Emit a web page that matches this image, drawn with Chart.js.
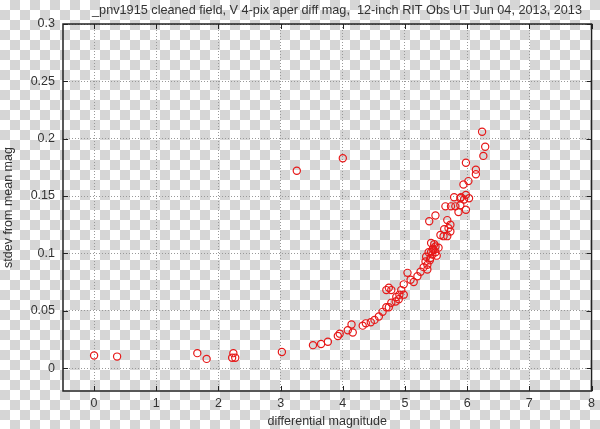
<!DOCTYPE html>
<html>
<head>
<meta charset="utf-8">
<script src="https://cdn.jsdelivr.net/npm/chart.js@4"></script>
<style>
  html, body { margin: 0; padding: 0; }
  body {
    width: 600px; height: 429px; overflow: hidden;
    background-color: #fff;
    background-image:
      linear-gradient(45deg, #d6d6d6 25%, transparent 25%, transparent 75%, #d6d6d6 75%),
      linear-gradient(45deg, #d6d6d6 25%, transparent 25%, transparent 75%, #d6d6d6 75%);
    background-size: 20px 20px;
    background-position: 0 0, 10px 10px;
  }
  #wrap { position: relative; width: 600px; height: 429px; }
</style>
</head>
<body>
<div id="wrap"><canvas id="magChart" width="600" height="429"></canvas></div>
<script>
const chartTitle = "_pnv1915 cleaned field, V 4-pix aper diff mag,  12-inch RIT Obs UT Jun 04, 2013, 2013";
const xAxisTitle = "differential magnitude";
const yAxisTitle = "stdev from mean mag";

const xTickVals = [0, 1, 2, 3, 4, 5, 6, 7, 8];
const yTickVals = [0, 0.05, 0.1, 0.15, 0.2, 0.25, 0.3];
const yTickLabels = ["0", "0.05", "0.1", "0.15", "0.2", "0.25", "0.3"];

// differential magnitude of each star
const diffMag = [
  0.00, 0.37, 1.66, 1.81, 2.24, 2.22, 2.27, 3.02, 3.26, 4.00,
  3.52, 3.65, 3.76, 3.92, 3.95, 4.08, 4.14, 4.16, 4.32, 4.37, 4.45,
  4.51, 4.58, 4.64, 4.70, 4.74, 4.78, 4.85, 4.86, 4.90, 4.98, 4.91,
  4.70, 4.74, 4.78, 4.94, 4.98, 5.04, 5.09, 5.14, 5.20, 5.25, 5.30,
  5.33, 5.36, 5.34, 5.41, 5.38, 5.42, 5.49, 5.46, 5.54, 5.42, 5.49, 5.47,
  5.57, 5.62, 5.68, 5.63, 5.70, 5.73, 5.73, 5.68, 5.39, 5.49,
  5.86, 5.98, 5.65, 5.74, 5.81, 5.89, 5.79, 5.90, 5.89, 5.95, 5.98, 6.03,
  5.94, 6.02, 6.14, 6.14, 5.98, 6.26, 6.29, 6.24,
  5.44, 5.40, 5.51, 5.36, 5.45
];
// standard deviation from the mean magnitude
const stdevMag = [
  0.011, 0.010, 0.013, 0.008, 0.013, 0.009, 0.009, 0.014, 0.172, 0.183,
  0.020, 0.021, 0.023, 0.028, 0.030, 0.033, 0.038, 0.031, 0.037, 0.039, 0.040,
  0.042, 0.045, 0.049, 0.053, 0.053, 0.057, 0.058, 0.062, 0.060, 0.064, 0.064,
  0.068, 0.070, 0.068, 0.068, 0.073, 0.083, 0.077, 0.075, 0.080, 0.084, 0.088,
  0.093, 0.090, 0.097, 0.096, 0.101, 0.101, 0.101, 0.103, 0.105, 0.109, 0.106, 0.108,
  0.116, 0.115, 0.115, 0.121, 0.122, 0.119, 0.125, 0.129, 0.128, 0.133,
  0.136, 0.138, 0.141, 0.141, 0.141, 0.142, 0.149, 0.149, 0.148, 0.147, 0.151, 0.148,
  0.160, 0.163, 0.169, 0.173, 0.179, 0.185, 0.193, 0.206,
  0.099, 0.094, 0.098, 0.086, 0.104
];

const points = diffMag.map((m, i) => ({ x: m, y: stdevMag[i] }));

const textFont = '"Liberation Sans", Arial, sans-serif';
const textColor = "#333";
const textSize = 12.5;

// gnuplot-like frame with inward ticks, plus the title
const framePlugin = {
  id: "frame",
  afterDraw(chart) {
    const { ctx, chartArea: a, scales } = chart;
    ctx.save();
    ctx.strokeStyle = "#222";
    ctx.lineWidth = 1.5;
    ctx.strokeRect(a.left, a.top, a.right - a.left, a.bottom - a.top);
    ctx.lineWidth = 1;
    ctx.beginPath();
    xTickVals.forEach(v => {
      const px = Math.round(scales.x.getPixelForValue(v)) + 0.5;
      ctx.moveTo(px, a.bottom); ctx.lineTo(px, a.bottom - 5);
      ctx.moveTo(px, a.top); ctx.lineTo(px, a.top + 5);
    });
    yTickVals.forEach(v => {
      const py = Math.round(scales.y.getPixelForValue(v)) + 0.5;
      ctx.moveTo(a.left, py); ctx.lineTo(a.left + 5, py);
      ctx.moveTo(a.right, py); ctx.lineTo(a.right - 5, py);
    });
    ctx.stroke();

    ctx.fillStyle = textColor;
    ctx.font = "12.7px " + textFont;
    ctx.textAlign = "center";
    ctx.textBaseline = "middle";
    ctx.fillText(chartTitle, 337, 10);
    ctx.restore();
  }
};

const ctx = document.getElementById("magChart").getContext("2d");
const magChart = new Chart(ctx, {
  type: "scatter",
  data: {
    datasets: [{
      data: points,
      borderColor: "rgb(230, 25, 25)",
      backgroundColor: "rgba(0, 0, 0, 0)",
      borderWidth: 1.2,
      pointRadius: 3.6,
      pointHoverRadius: 3.6,
    }],
  },
  plugins: [framePlugin],
  options: {
    responsive: false,
    animation: false,
    layout: { padding: { top: 24, right: 6, left: 1, bottom: 0 } },
    plugins: {
      legend: { display: false },
      tooltip: { enabled: false },
    },
    scales: {
      x: {
        type: "linear",
        min: -0.5,
        max: 8,
        afterBuildTicks: (scale) => { scale.ticks = xTickVals.map(v => ({ value: v })); },
        afterFit: (scale) => { scale.height = 38; },
        ticks: {
          color: textColor,
          font: { family: textFont, size: textSize },
          padding: 5,
          maxRotation: 0,
          callback: (v) => String(v),
        },
        grid: {
          color: "#999",
          lineWidth: 1,
          drawTicks: false,
        },
        border: { display: false, dash: [1, 2] },
        title: {
          display: true,
          text: xAxisTitle,
          color: textColor,
          font: { family: textFont, size: textSize },
          padding: { top: 0, bottom: 0 },
        },
      },
      y: {
        type: "linear",
        min: -0.02,
        max: 0.3,
        afterBuildTicks: (scale) => { scale.ticks = yTickVals.map(v => ({ value: v })); },
        afterFit: (scale) => { scale.width = 62; },
        ticks: {
          color: textColor,
          font: { family: textFont, size: textSize },
          padding: 8,
          callback: (v, i) => yTickLabels[i],
        },
        grid: {
          color: "#999",
          lineWidth: 1,
          drawTicks: false,
        },
        border: { display: false, dash: [1, 2] },
        title: {
          display: true,
          text: yAxisTitle,
          color: textColor,
          font: { family: textFont, size: textSize },
          padding: { top: 0, bottom: 0 },
        },
      },
    },
  },
});
</script>
</body>
</html>
